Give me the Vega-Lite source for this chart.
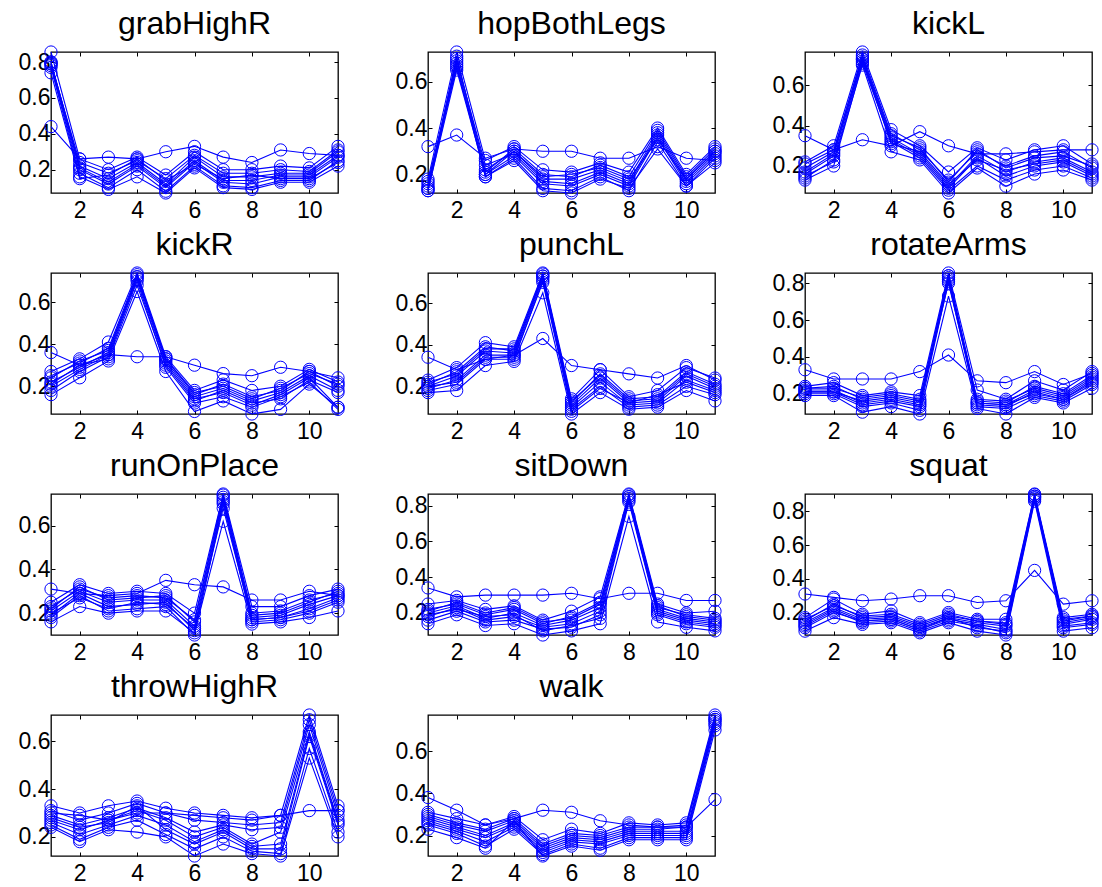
{
"$schema":"https://vega.github.io/schema/vega-lite/v6.json",
"padding":{"left":17,"top":7,"right":5,"bottom":5},
"data":{"values":[
{"p":"grabHighR","s":1,"x":1,"y":0.856},{"p":"grabHighR","s":2,"x":1,"y":0.80},{"p":"grabHighR","s":3,"x":1,"y":0.79},{"p":"grabHighR","s":4,"x":1,"y":0.78},{"p":"grabHighR","s":5,"x":1,"y":0.77},{"p":"grabHighR","s":6,"x":1,"y":0.79},{"p":"grabHighR","s":7,"x":1,"y":0.80},{"p":"grabHighR","s":8,"x":1,"y":0.74},{"p":"grabHighR","s":9,"x":1,"y":0.44},
{"p":"grabHighR","s":1,"x":2,"y":0.26},{"p":"grabHighR","s":2,"x":2,"y":0.22},{"p":"grabHighR","s":3,"x":2,"y":0.20},{"p":"grabHighR","s":4,"x":2,"y":0.18},{"p":"grabHighR","s":5,"x":2,"y":0.16},{"p":"grabHighR","s":6,"x":2,"y":0.24},{"p":"grabHighR","s":7,"x":2,"y":0.21},{"p":"grabHighR","s":8,"x":2,"y":0.15},{"p":"grabHighR","s":9,"x":2,"y":0.26},
{"p":"grabHighR","s":1,"x":3,"y":0.20},{"p":"grabHighR","s":2,"x":3,"y":0.15},{"p":"grabHighR","s":3,"x":3,"y":0.12},{"p":"grabHighR","s":4,"x":3,"y":0.10},{"p":"grabHighR","s":5,"x":3,"y":0.09},{"p":"grabHighR","s":6,"x":3,"y":0.18},{"p":"grabHighR","s":7,"x":3,"y":0.13},{"p":"grabHighR","s":8,"x":3,"y":0.17},{"p":"grabHighR","s":9,"x":3,"y":0.27},
{"p":"grabHighR","s":1,"x":4,"y":0.27},{"p":"grabHighR","s":2,"x":4,"y":0.24},{"p":"grabHighR","s":3,"x":4,"y":0.22},{"p":"grabHighR","s":4,"x":4,"y":0.20},{"p":"grabHighR","s":5,"x":4,"y":0.16},{"p":"grabHighR","s":6,"x":4,"y":0.25},{"p":"grabHighR","s":7,"x":4,"y":0.23},{"p":"grabHighR","s":8,"x":4,"y":0.26},{"p":"grabHighR","s":9,"x":4,"y":0.26},
{"p":"grabHighR","s":1,"x":5,"y":0.17},{"p":"grabHighR","s":2,"x":5,"y":0.12},{"p":"grabHighR","s":3,"x":5,"y":0.10},{"p":"grabHighR","s":4,"x":5,"y":0.08},{"p":"grabHighR","s":5,"x":5,"y":0.07},{"p":"grabHighR","s":6,"x":5,"y":0.15},{"p":"grabHighR","s":7,"x":5,"y":0.11},{"p":"grabHighR","s":8,"x":5,"y":0.14},{"p":"grabHighR","s":9,"x":5,"y":0.30},
{"p":"grabHighR","s":1,"x":6,"y":0.30},{"p":"grabHighR","s":2,"x":6,"y":0.27},{"p":"grabHighR","s":3,"x":6,"y":0.24},{"p":"grabHighR","s":4,"x":6,"y":0.22},{"p":"grabHighR","s":5,"x":6,"y":0.21},{"p":"grabHighR","s":6,"x":6,"y":0.28},{"p":"grabHighR","s":7,"x":6,"y":0.25},{"p":"grabHighR","s":8,"x":6,"y":0.23},{"p":"grabHighR","s":9,"x":6,"y":0.33},
{"p":"grabHighR","s":1,"x":7,"y":0.20},{"p":"grabHighR","s":2,"x":7,"y":0.16},{"p":"grabHighR","s":3,"x":7,"y":0.13},{"p":"grabHighR","s":4,"x":7,"y":0.11},{"p":"grabHighR","s":5,"x":7,"y":0.10},{"p":"grabHighR","s":6,"x":7,"y":0.18},{"p":"grabHighR","s":7,"x":7,"y":0.14},{"p":"grabHighR","s":8,"x":7,"y":0.15},{"p":"grabHighR","s":9,"x":7,"y":0.27},
{"p":"grabHighR","s":1,"x":8,"y":0.20},{"p":"grabHighR","s":2,"x":8,"y":0.16},{"p":"grabHighR","s":3,"x":8,"y":0.12},{"p":"grabHighR","s":4,"x":8,"y":0.10},{"p":"grabHighR","s":5,"x":8,"y":0.09},{"p":"grabHighR","s":6,"x":8,"y":0.18},{"p":"grabHighR","s":7,"x":8,"y":0.14},{"p":"grabHighR","s":8,"x":8,"y":0.17},{"p":"grabHighR","s":9,"x":8,"y":0.24},
{"p":"grabHighR","s":1,"x":9,"y":0.22},{"p":"grabHighR","s":2,"x":9,"y":0.18},{"p":"grabHighR","s":3,"x":9,"y":0.16},{"p":"grabHighR","s":4,"x":9,"y":0.14},{"p":"grabHighR","s":5,"x":9,"y":0.13},{"p":"grabHighR","s":6,"x":9,"y":0.20},{"p":"grabHighR","s":7,"x":9,"y":0.17},{"p":"grabHighR","s":8,"x":9,"y":0.15},{"p":"grabHighR","s":9,"x":9,"y":0.31},
{"p":"grabHighR","s":1,"x":10,"y":0.21},{"p":"grabHighR","s":2,"x":10,"y":0.18},{"p":"grabHighR","s":3,"x":10,"y":0.16},{"p":"grabHighR","s":4,"x":10,"y":0.14},{"p":"grabHighR","s":5,"x":10,"y":0.13},{"p":"grabHighR","s":6,"x":10,"y":0.19},{"p":"grabHighR","s":7,"x":10,"y":0.17},{"p":"grabHighR","s":8,"x":10,"y":0.15},{"p":"grabHighR","s":9,"x":10,"y":0.29},
{"p":"grabHighR","s":1,"x":11,"y":0.33},{"p":"grabHighR","s":2,"x":11,"y":0.30},{"p":"grabHighR","s":3,"x":11,"y":0.27},{"p":"grabHighR","s":4,"x":11,"y":0.25},{"p":"grabHighR","s":5,"x":11,"y":0.22},{"p":"grabHighR","s":6,"x":11,"y":0.31},{"p":"grabHighR","s":7,"x":11,"y":0.28},{"p":"grabHighR","s":8,"x":11,"y":0.24},{"p":"grabHighR","s":9,"x":11,"y":0.28},

{"p":"hopBothLegs","s":1,"x":1,"y":0.18},{"p":"hopBothLegs","s":2,"x":1,"y":0.15},{"p":"hopBothLegs","s":3,"x":1,"y":0.14},{"p":"hopBothLegs","s":4,"x":1,"y":0.13},{"p":"hopBothLegs","s":5,"x":1,"y":0.17},{"p":"hopBothLegs","s":6,"x":1,"y":0.16},{"p":"hopBothLegs","s":7,"x":1,"y":0.14},{"p":"hopBothLegs","s":8,"x":1,"y":0.13},{"p":"hopBothLegs","s":9,"x":1,"y":0.32},
{"p":"hopBothLegs","s":1,"x":2,"y":0.728},{"p":"hopBothLegs","s":2,"x":2,"y":0.70},{"p":"hopBothLegs","s":3,"x":2,"y":0.68},{"p":"hopBothLegs","s":4,"x":2,"y":0.67},{"p":"hopBothLegs","s":5,"x":2,"y":0.66},{"p":"hopBothLegs","s":6,"x":2,"y":0.69},{"p":"hopBothLegs","s":7,"x":2,"y":0.71},{"p":"hopBothLegs","s":8,"x":2,"y":0.65},{"p":"hopBothLegs","s":9,"x":2,"y":0.37},
{"p":"hopBothLegs","s":1,"x":3,"y":0.26},{"p":"hopBothLegs","s":2,"x":3,"y":0.22},{"p":"hopBothLegs","s":3,"x":3,"y":0.20},{"p":"hopBothLegs","s":4,"x":3,"y":0.19},{"p":"hopBothLegs","s":5,"x":3,"y":0.21},{"p":"hopBothLegs","s":6,"x":3,"y":0.24},{"p":"hopBothLegs","s":7,"x":3,"y":0.19},{"p":"hopBothLegs","s":8,"x":3,"y":0.20},{"p":"hopBothLegs","s":9,"x":3,"y":0.27},
{"p":"hopBothLegs","s":1,"x":4,"y":0.32},{"p":"hopBothLegs","s":2,"x":4,"y":0.30},{"p":"hopBothLegs","s":3,"x":4,"y":0.28},{"p":"hopBothLegs","s":4,"x":4,"y":0.27},{"p":"hopBothLegs","s":5,"x":4,"y":0.31},{"p":"hopBothLegs","s":6,"x":4,"y":0.29},{"p":"hopBothLegs","s":7,"x":4,"y":0.26},{"p":"hopBothLegs","s":8,"x":4,"y":0.30},{"p":"hopBothLegs","s":9,"x":4,"y":0.31},
{"p":"hopBothLegs","s":1,"x":5,"y":0.22},{"p":"hopBothLegs","s":2,"x":5,"y":0.18},{"p":"hopBothLegs","s":3,"x":5,"y":0.16},{"p":"hopBothLegs","s":4,"x":5,"y":0.14},{"p":"hopBothLegs","s":5,"x":5,"y":0.20},{"p":"hopBothLegs","s":6,"x":5,"y":0.17},{"p":"hopBothLegs","s":7,"x":5,"y":0.13},{"p":"hopBothLegs","s":8,"x":5,"y":0.19},{"p":"hopBothLegs","s":9,"x":5,"y":0.30},
{"p":"hopBothLegs","s":1,"x":6,"y":0.21},{"p":"hopBothLegs","s":2,"x":6,"y":0.18},{"p":"hopBothLegs","s":3,"x":6,"y":0.15},{"p":"hopBothLegs","s":4,"x":6,"y":0.13},{"p":"hopBothLegs","s":5,"x":6,"y":0.19},{"p":"hopBothLegs","s":6,"x":6,"y":0.16},{"p":"hopBothLegs","s":7,"x":6,"y":0.12},{"p":"hopBothLegs","s":8,"x":6,"y":0.20},{"p":"hopBothLegs","s":9,"x":6,"y":0.30},
{"p":"hopBothLegs","s":1,"x":7,"y":0.25},{"p":"hopBothLegs","s":2,"x":7,"y":0.22},{"p":"hopBothLegs","s":3,"x":7,"y":0.20},{"p":"hopBothLegs","s":4,"x":7,"y":0.19},{"p":"hopBothLegs","s":5,"x":7,"y":0.24},{"p":"hopBothLegs","s":6,"x":7,"y":0.21},{"p":"hopBothLegs","s":7,"x":7,"y":0.18},{"p":"hopBothLegs","s":8,"x":7,"y":0.23},{"p":"hopBothLegs","s":9,"x":7,"y":0.27},
{"p":"hopBothLegs","s":1,"x":8,"y":0.21},{"p":"hopBothLegs","s":2,"x":8,"y":0.17},{"p":"hopBothLegs","s":3,"x":8,"y":0.15},{"p":"hopBothLegs","s":4,"x":8,"y":0.13},{"p":"hopBothLegs","s":5,"x":8,"y":0.19},{"p":"hopBothLegs","s":6,"x":8,"y":0.16},{"p":"hopBothLegs","s":7,"x":8,"y":0.14},{"p":"hopBothLegs","s":8,"x":8,"y":0.18},{"p":"hopBothLegs","s":9,"x":8,"y":0.27},
{"p":"hopBothLegs","s":1,"x":9,"y":0.40},{"p":"hopBothLegs","s":2,"x":9,"y":0.38},{"p":"hopBothLegs","s":3,"x":9,"y":0.36},{"p":"hopBothLegs","s":4,"x":9,"y":0.34},{"p":"hopBothLegs","s":5,"x":9,"y":0.39},{"p":"hopBothLegs","s":6,"x":9,"y":0.37},{"p":"hopBothLegs","s":7,"x":9,"y":0.31},{"p":"hopBothLegs","s":8,"x":9,"y":0.35},{"p":"hopBothLegs","s":9,"x":9,"y":0.32},
{"p":"hopBothLegs","s":1,"x":10,"y":0.20},{"p":"hopBothLegs","s":2,"x":10,"y":0.18},{"p":"hopBothLegs","s":3,"x":10,"y":0.16},{"p":"hopBothLegs","s":4,"x":10,"y":0.15},{"p":"hopBothLegs","s":5,"x":10,"y":0.19},{"p":"hopBothLegs","s":6,"x":10,"y":0.17},{"p":"hopBothLegs","s":7,"x":10,"y":0.15},{"p":"hopBothLegs","s":8,"x":10,"y":0.18},{"p":"hopBothLegs","s":9,"x":10,"y":0.27},
{"p":"hopBothLegs","s":1,"x":11,"y":0.32},{"p":"hopBothLegs","s":2,"x":11,"y":0.30},{"p":"hopBothLegs","s":3,"x":11,"y":0.28},{"p":"hopBothLegs","s":4,"x":11,"y":0.27},{"p":"hopBothLegs","s":5,"x":11,"y":0.31},{"p":"hopBothLegs","s":6,"x":11,"y":0.29},{"p":"hopBothLegs","s":7,"x":11,"y":0.25},{"p":"hopBothLegs","s":8,"x":11,"y":0.30},{"p":"hopBothLegs","s":9,"x":11,"y":0.26},

{"p":"kickL","s":1,"x":1,"y":0.22},{"p":"kickL","s":2,"x":1,"y":0.19},{"p":"kickL","s":3,"x":1,"y":0.16},{"p":"kickL","s":4,"x":1,"y":0.14},{"p":"kickL","s":5,"x":1,"y":0.13},{"p":"kickL","s":6,"x":1,"y":0.21},{"p":"kickL","s":7,"x":1,"y":0.15},{"p":"kickL","s":8,"x":1,"y":0.17},{"p":"kickL","s":9,"x":1,"y":0.35},
{"p":"kickL","s":1,"x":2,"y":0.30},{"p":"kickL","s":2,"x":2,"y":0.27},{"p":"kickL","s":3,"x":2,"y":0.25},{"p":"kickL","s":4,"x":2,"y":0.23},{"p":"kickL","s":5,"x":2,"y":0.20},{"p":"kickL","s":6,"x":2,"y":0.28},{"p":"kickL","s":7,"x":2,"y":0.22},{"p":"kickL","s":8,"x":2,"y":0.26},{"p":"kickL","s":9,"x":2,"y":0.28},
{"p":"kickL","s":1,"x":3,"y":0.765},{"p":"kickL","s":2,"x":3,"y":0.75},{"p":"kickL","s":3,"x":3,"y":0.73},{"p":"kickL","s":4,"x":3,"y":0.72},{"p":"kickL","s":5,"x":3,"y":0.71},{"p":"kickL","s":6,"x":3,"y":0.74},{"p":"kickL","s":7,"x":3,"y":0.70},{"p":"kickL","s":8,"x":3,"y":0.73},{"p":"kickL","s":9,"x":3,"y":0.33},
{"p":"kickL","s":1,"x":4,"y":0.38},{"p":"kickL","s":2,"x":4,"y":0.36},{"p":"kickL","s":3,"x":4,"y":0.34},{"p":"kickL","s":4,"x":4,"y":0.33},{"p":"kickL","s":5,"x":4,"y":0.32},{"p":"kickL","s":6,"x":4,"y":0.35},{"p":"kickL","s":7,"x":4,"y":0.27},{"p":"kickL","s":8,"x":4,"y":0.31},{"p":"kickL","s":9,"x":4,"y":0.30},
{"p":"kickL","s":1,"x":5,"y":0.30},{"p":"kickL","s":2,"x":5,"y":0.28},{"p":"kickL","s":3,"x":5,"y":0.26},{"p":"kickL","s":4,"x":5,"y":0.25},{"p":"kickL","s":5,"x":5,"y":0.24},{"p":"kickL","s":6,"x":5,"y":0.29},{"p":"kickL","s":7,"x":5,"y":0.23},{"p":"kickL","s":8,"x":5,"y":0.27},{"p":"kickL","s":9,"x":5,"y":0.37},
{"p":"kickL","s":1,"x":6,"y":0.17},{"p":"kickL","s":2,"x":6,"y":0.13},{"p":"kickL","s":3,"x":6,"y":0.10},{"p":"kickL","s":4,"x":6,"y":0.09},{"p":"kickL","s":5,"x":6,"y":0.08},{"p":"kickL","s":6,"x":6,"y":0.12},{"p":"kickL","s":7,"x":6,"y":0.066},{"p":"kickL","s":8,"x":6,"y":0.11},{"p":"kickL","s":9,"x":6,"y":0.30},
{"p":"kickL","s":1,"x":7,"y":0.29},{"p":"kickL","s":2,"x":7,"y":0.27},{"p":"kickL","s":3,"x":7,"y":0.25},{"p":"kickL","s":4,"x":7,"y":0.24},{"p":"kickL","s":5,"x":7,"y":0.20},{"p":"kickL","s":6,"x":7,"y":0.28},{"p":"kickL","s":7,"x":7,"y":0.19},{"p":"kickL","s":8,"x":7,"y":0.23},{"p":"kickL","s":9,"x":7,"y":0.26},
{"p":"kickL","s":1,"x":8,"y":0.23},{"p":"kickL","s":2,"x":8,"y":0.20},{"p":"kickL","s":3,"x":8,"y":0.17},{"p":"kickL","s":4,"x":8,"y":0.15},{"p":"kickL","s":5,"x":8,"y":0.13},{"p":"kickL","s":6,"x":8,"y":0.19},{"p":"kickL","s":7,"x":8,"y":0.10},{"p":"kickL","s":8,"x":8,"y":0.18},{"p":"kickL","s":9,"x":8,"y":0.26},
{"p":"kickL","s":1,"x":9,"y":0.28},{"p":"kickL","s":2,"x":9,"y":0.25},{"p":"kickL","s":3,"x":9,"y":0.22},{"p":"kickL","s":4,"x":9,"y":0.20},{"p":"kickL","s":5,"x":9,"y":0.18},{"p":"kickL","s":6,"x":9,"y":0.24},{"p":"kickL","s":7,"x":9,"y":0.16},{"p":"kickL","s":8,"x":9,"y":0.21},{"p":"kickL","s":9,"x":9,"y":0.27},
{"p":"kickL","s":1,"x":10,"y":0.30},{"p":"kickL","s":2,"x":10,"y":0.27},{"p":"kickL","s":3,"x":10,"y":0.24},{"p":"kickL","s":4,"x":10,"y":0.22},{"p":"kickL","s":5,"x":10,"y":0.20},{"p":"kickL","s":6,"x":10,"y":0.25},{"p":"kickL","s":7,"x":10,"y":0.18},{"p":"kickL","s":8,"x":10,"y":0.23},{"p":"kickL","s":9,"x":10,"y":0.28},
{"p":"kickL","s":1,"x":11,"y":0.21},{"p":"kickL","s":2,"x":11,"y":0.19},{"p":"kickL","s":3,"x":11,"y":0.17},{"p":"kickL","s":4,"x":11,"y":0.15},{"p":"kickL","s":5,"x":11,"y":0.14},{"p":"kickL","s":6,"x":11,"y":0.20},{"p":"kickL","s":7,"x":11,"y":0.13},{"p":"kickL","s":8,"x":11,"y":0.16},{"p":"kickL","s":9,"x":11,"y":0.28},

{"p":"kickR","s":1,"x":1,"y":0.27},{"p":"kickR","s":2,"x":1,"y":0.25},{"p":"kickR","s":3,"x":1,"y":0.22},{"p":"kickR","s":4,"x":1,"y":0.20},{"p":"kickR","s":5,"x":1,"y":0.18},{"p":"kickR","s":6,"x":1,"y":0.24},{"p":"kickR","s":7,"x":1,"y":0.16},{"p":"kickR","s":8,"x":1,"y":0.21},{"p":"kickR","s":9,"x":1,"y":0.36},
{"p":"kickR","s":1,"x":2,"y":0.33},{"p":"kickR","s":2,"x":2,"y":0.31},{"p":"kickR","s":3,"x":2,"y":0.29},{"p":"kickR","s":4,"x":2,"y":0.28},{"p":"kickR","s":5,"x":2,"y":0.27},{"p":"kickR","s":6,"x":2,"y":0.32},{"p":"kickR","s":7,"x":2,"y":0.24},{"p":"kickR","s":8,"x":2,"y":0.30},{"p":"kickR","s":9,"x":2,"y":0.30},
{"p":"kickR","s":1,"x":3,"y":0.41},{"p":"kickR","s":2,"x":3,"y":0.38},{"p":"kickR","s":3,"x":3,"y":0.36},{"p":"kickR","s":4,"x":3,"y":0.35},{"p":"kickR","s":5,"x":3,"y":0.34},{"p":"kickR","s":6,"x":3,"y":0.37},{"p":"kickR","s":7,"x":3,"y":0.32},{"p":"kickR","s":8,"x":3,"y":0.33},{"p":"kickR","s":9,"x":3,"y":0.35},
{"p":"kickR","s":1,"x":4,"y":0.738},{"p":"kickR","s":2,"x":4,"y":0.73},{"p":"kickR","s":3,"x":4,"y":0.72},{"p":"kickR","s":4,"x":4,"y":0.71},{"p":"kickR","s":5,"x":4,"y":0.70},{"p":"kickR","s":6,"x":4,"y":0.72},{"p":"kickR","s":7,"x":4,"y":0.65},{"p":"kickR","s":8,"x":4,"y":0.68},{"p":"kickR","s":9,"x":4,"y":0.34},
{"p":"kickR","s":1,"x":5,"y":0.34},{"p":"kickR","s":2,"x":5,"y":0.33},{"p":"kickR","s":3,"x":5,"y":0.32},{"p":"kickR","s":4,"x":5,"y":0.31},{"p":"kickR","s":5,"x":5,"y":0.29},{"p":"kickR","s":6,"x":5,"y":0.33},{"p":"kickR","s":7,"x":5,"y":0.27},{"p":"kickR","s":8,"x":5,"y":0.30},{"p":"kickR","s":9,"x":5,"y":0.34},
{"p":"kickR","s":1,"x":6,"y":0.18},{"p":"kickR","s":2,"x":6,"y":0.16},{"p":"kickR","s":3,"x":6,"y":0.15},{"p":"kickR","s":4,"x":6,"y":0.14},{"p":"kickR","s":5,"x":6,"y":0.12},{"p":"kickR","s":6,"x":6,"y":0.17},{"p":"kickR","s":7,"x":6,"y":0.08},{"p":"kickR","s":8,"x":6,"y":0.13},{"p":"kickR","s":9,"x":6,"y":0.30},
{"p":"kickR","s":1,"x":7,"y":0.23},{"p":"kickR","s":2,"x":7,"y":0.21},{"p":"kickR","s":3,"x":7,"y":0.19},{"p":"kickR","s":4,"x":7,"y":0.17},{"p":"kickR","s":5,"x":7,"y":0.15},{"p":"kickR","s":6,"x":7,"y":0.20},{"p":"kickR","s":7,"x":7,"y":0.13},{"p":"kickR","s":8,"x":7,"y":0.18},{"p":"kickR","s":9,"x":7,"y":0.26},
{"p":"kickR","s":1,"x":8,"y":0.18},{"p":"kickR","s":2,"x":8,"y":0.15},{"p":"kickR","s":3,"x":8,"y":0.13},{"p":"kickR","s":4,"x":8,"y":0.11},{"p":"kickR","s":5,"x":8,"y":0.10},{"p":"kickR","s":6,"x":8,"y":0.14},{"p":"kickR","s":7,"x":8,"y":0.068},{"p":"kickR","s":8,"x":8,"y":0.12},{"p":"kickR","s":9,"x":8,"y":0.25},
{"p":"kickR","s":1,"x":9,"y":0.20},{"p":"kickR","s":2,"x":9,"y":0.18},{"p":"kickR","s":3,"x":9,"y":0.17},{"p":"kickR","s":4,"x":9,"y":0.16},{"p":"kickR","s":5,"x":9,"y":0.15},{"p":"kickR","s":6,"x":9,"y":0.19},{"p":"kickR","s":7,"x":9,"y":0.09},{"p":"kickR","s":8,"x":9,"y":0.14},{"p":"kickR","s":9,"x":9,"y":0.29},
{"p":"kickR","s":1,"x":10,"y":0.28},{"p":"kickR","s":2,"x":10,"y":0.27},{"p":"kickR","s":3,"x":10,"y":0.25},{"p":"kickR","s":4,"x":10,"y":0.24},{"p":"kickR","s":5,"x":10,"y":0.22},{"p":"kickR","s":6,"x":10,"y":0.26},{"p":"kickR","s":7,"x":10,"y":0.21},{"p":"kickR","s":8,"x":10,"y":0.23},{"p":"kickR","s":9,"x":10,"y":0.27},
{"p":"kickR","s":1,"x":11,"y":0.22},{"p":"kickR","s":2,"x":11,"y":0.20},{"p":"kickR","s":3,"x":11,"y":0.18},{"p":"kickR","s":4,"x":11,"y":0.10},{"p":"kickR","s":5,"x":11,"y":0.09},{"p":"kickR","s":6,"x":11,"y":0.21},{"p":"kickR","s":7,"x":11,"y":0.10},{"p":"kickR","s":8,"x":11,"y":0.17},{"p":"kickR","s":9,"x":11,"y":0.24},

{"p":"punchL","s":1,"x":1,"y":0.23},{"p":"punchL","s":2,"x":1,"y":0.21},{"p":"punchL","s":3,"x":1,"y":0.20},{"p":"punchL","s":4,"x":1,"y":0.19},{"p":"punchL","s":5,"x":1,"y":0.18},{"p":"punchL","s":6,"x":1,"y":0.22},{"p":"punchL","s":7,"x":1,"y":0.17},{"p":"punchL","s":8,"x":1,"y":0.20},{"p":"punchL","s":9,"x":1,"y":0.34},
{"p":"punchL","s":1,"x":2,"y":0.29},{"p":"punchL","s":2,"x":2,"y":0.27},{"p":"punchL","s":3,"x":2,"y":0.25},{"p":"punchL","s":4,"x":2,"y":0.23},{"p":"punchL","s":5,"x":2,"y":0.21},{"p":"punchL","s":6,"x":2,"y":0.26},{"p":"punchL","s":7,"x":2,"y":0.18},{"p":"punchL","s":8,"x":2,"y":0.22},{"p":"punchL","s":9,"x":2,"y":0.28},
{"p":"punchL","s":1,"x":3,"y":0.41},{"p":"punchL","s":2,"x":3,"y":0.39},{"p":"punchL","s":3,"x":3,"y":0.37},{"p":"punchL","s":4,"x":3,"y":0.35},{"p":"punchL","s":5,"x":3,"y":0.33},{"p":"punchL","s":6,"x":3,"y":0.38},{"p":"punchL","s":7,"x":3,"y":0.30},{"p":"punchL","s":8,"x":3,"y":0.34},{"p":"punchL","s":9,"x":3,"y":0.33},
{"p":"punchL","s":1,"x":4,"y":0.39},{"p":"punchL","s":2,"x":4,"y":0.37},{"p":"punchL","s":3,"x":4,"y":0.36},{"p":"punchL","s":4,"x":4,"y":0.35},{"p":"punchL","s":5,"x":4,"y":0.33},{"p":"punchL","s":6,"x":4,"y":0.38},{"p":"punchL","s":7,"x":4,"y":0.32},{"p":"punchL","s":8,"x":4,"y":0.34},{"p":"punchL","s":9,"x":4,"y":0.35},
{"p":"punchL","s":1,"x":5,"y":0.745},{"p":"punchL","s":2,"x":5,"y":0.74},{"p":"punchL","s":3,"x":5,"y":0.73},{"p":"punchL","s":4,"x":5,"y":0.72},{"p":"punchL","s":5,"x":5,"y":0.71},{"p":"punchL","s":6,"x":5,"y":0.73},{"p":"punchL","s":7,"x":5,"y":0.65},{"p":"punchL","s":8,"x":5,"y":0.70},{"p":"punchL","s":9,"x":5,"y":0.43},
{"p":"punchL","s":1,"x":6,"y":0.14},{"p":"punchL","s":2,"x":6,"y":0.12},{"p":"punchL","s":3,"x":6,"y":0.11},{"p":"punchL","s":4,"x":6,"y":0.10},{"p":"punchL","s":5,"x":6,"y":0.09},{"p":"punchL","s":6,"x":6,"y":0.13},{"p":"punchL","s":7,"x":6,"y":0.067},{"p":"punchL","s":8,"x":6,"y":0.08},{"p":"punchL","s":9,"x":6,"y":0.30},
{"p":"punchL","s":1,"x":7,"y":0.28},{"p":"punchL","s":2,"x":7,"y":0.26},{"p":"punchL","s":3,"x":7,"y":0.24},{"p":"punchL","s":4,"x":7,"y":0.22},{"p":"punchL","s":5,"x":7,"y":0.20},{"p":"punchL","s":6,"x":7,"y":0.25},{"p":"punchL","s":7,"x":7,"y":0.17},{"p":"punchL","s":8,"x":7,"y":0.19},{"p":"punchL","s":9,"x":7,"y":0.28},
{"p":"punchL","s":1,"x":8,"y":0.15},{"p":"punchL","s":2,"x":8,"y":0.14},{"p":"punchL","s":3,"x":8,"y":0.12},{"p":"punchL","s":4,"x":8,"y":0.11},{"p":"punchL","s":5,"x":8,"y":0.10},{"p":"punchL","s":6,"x":8,"y":0.13},{"p":"punchL","s":7,"x":8,"y":0.09},{"p":"punchL","s":8,"x":8,"y":0.12},{"p":"punchL","s":9,"x":8,"y":0.26},
{"p":"punchL","s":1,"x":9,"y":0.18},{"p":"punchL","s":2,"x":9,"y":0.15},{"p":"punchL","s":3,"x":9,"y":0.13},{"p":"punchL","s":4,"x":9,"y":0.12},{"p":"punchL","s":5,"x":9,"y":0.11},{"p":"punchL","s":6,"x":9,"y":0.14},{"p":"punchL","s":7,"x":9,"y":0.10},{"p":"punchL","s":8,"x":9,"y":0.16},{"p":"punchL","s":9,"x":9,"y":0.24},
{"p":"punchL","s":1,"x":10,"y":0.29},{"p":"punchL","s":2,"x":10,"y":0.27},{"p":"punchL","s":3,"x":10,"y":0.25},{"p":"punchL","s":4,"x":10,"y":0.23},{"p":"punchL","s":5,"x":10,"y":0.20},{"p":"punchL","s":6,"x":10,"y":0.26},{"p":"punchL","s":7,"x":10,"y":0.18},{"p":"punchL","s":8,"x":10,"y":0.22},{"p":"punchL","s":9,"x":10,"y":0.30},
{"p":"punchL","s":1,"x":11,"y":0.24},{"p":"punchL","s":2,"x":11,"y":0.21},{"p":"punchL","s":3,"x":11,"y":0.19},{"p":"punchL","s":4,"x":11,"y":0.18},{"p":"punchL","s":5,"x":11,"y":0.16},{"p":"punchL","s":6,"x":11,"y":0.20},{"p":"punchL","s":7,"x":11,"y":0.13},{"p":"punchL","s":8,"x":11,"y":0.17},{"p":"punchL","s":9,"x":11,"y":0.23},

{"p":"rotateArms","s":1,"x":1,"y":0.24},{"p":"rotateArms","s":2,"x":1,"y":0.23},{"p":"rotateArms","s":3,"x":1,"y":0.22},{"p":"rotateArms","s":4,"x":1,"y":0.21},{"p":"rotateArms","s":5,"x":1,"y":0.20},{"p":"rotateArms","s":6,"x":1,"y":0.23},{"p":"rotateArms","s":7,"x":1,"y":0.19},{"p":"rotateArms","s":8,"x":1,"y":0.21},{"p":"rotateArms","s":9,"x":1,"y":0.33},
{"p":"rotateArms","s":1,"x":2,"y":0.26},{"p":"rotateArms","s":2,"x":2,"y":0.24},{"p":"rotateArms","s":3,"x":2,"y":0.22},{"p":"rotateArms","s":4,"x":2,"y":0.21},{"p":"rotateArms","s":5,"x":2,"y":0.20},{"p":"rotateArms","s":6,"x":2,"y":0.23},{"p":"rotateArms","s":7,"x":2,"y":0.19},{"p":"rotateArms","s":8,"x":2,"y":0.21},{"p":"rotateArms","s":9,"x":2,"y":0.28},
{"p":"rotateArms","s":1,"x":3,"y":0.19},{"p":"rotateArms","s":2,"x":3,"y":0.17},{"p":"rotateArms","s":3,"x":3,"y":0.15},{"p":"rotateArms","s":4,"x":3,"y":0.14},{"p":"rotateArms","s":5,"x":3,"y":0.13},{"p":"rotateArms","s":6,"x":3,"y":0.18},{"p":"rotateArms","s":7,"x":3,"y":0.10},{"p":"rotateArms","s":8,"x":3,"y":0.16},{"p":"rotateArms","s":9,"x":3,"y":0.28},
{"p":"rotateArms","s":1,"x":4,"y":0.21},{"p":"rotateArms","s":2,"x":4,"y":0.19},{"p":"rotateArms","s":3,"x":4,"y":0.17},{"p":"rotateArms","s":4,"x":4,"y":0.16},{"p":"rotateArms","s":5,"x":4,"y":0.15},{"p":"rotateArms","s":6,"x":4,"y":0.20},{"p":"rotateArms","s":7,"x":4,"y":0.13},{"p":"rotateArms","s":8,"x":4,"y":0.18},{"p":"rotateArms","s":9,"x":4,"y":0.28},
{"p":"rotateArms","s":1,"x":5,"y":0.19},{"p":"rotateArms","s":2,"x":5,"y":0.16},{"p":"rotateArms","s":3,"x":5,"y":0.14},{"p":"rotateArms","s":4,"x":5,"y":0.13},{"p":"rotateArms","s":5,"x":5,"y":0.11},{"p":"rotateArms","s":6,"x":5,"y":0.17},{"p":"rotateArms","s":7,"x":5,"y":0.09},{"p":"rotateArms","s":8,"x":5,"y":0.15},{"p":"rotateArms","s":9,"x":5,"y":0.32},
{"p":"rotateArms","s":1,"x":6,"y":0.855},{"p":"rotateArms","s":2,"x":6,"y":0.84},{"p":"rotateArms","s":3,"x":6,"y":0.83},{"p":"rotateArms","s":4,"x":6,"y":0.82},{"p":"rotateArms","s":5,"x":6,"y":0.81},{"p":"rotateArms","s":6,"x":6,"y":0.84},{"p":"rotateArms","s":7,"x":6,"y":0.73},{"p":"rotateArms","s":8,"x":6,"y":0.80},{"p":"rotateArms","s":9,"x":6,"y":0.41},
{"p":"rotateArms","s":1,"x":7,"y":0.22},{"p":"rotateArms","s":2,"x":7,"y":0.16},{"p":"rotateArms","s":3,"x":7,"y":0.15},{"p":"rotateArms","s":4,"x":7,"y":0.14},{"p":"rotateArms","s":5,"x":7,"y":0.13},{"p":"rotateArms","s":6,"x":7,"y":0.17},{"p":"rotateArms","s":7,"x":7,"y":0.12},{"p":"rotateArms","s":8,"x":7,"y":0.15},{"p":"rotateArms","s":9,"x":7,"y":0.27},
{"p":"rotateArms","s":1,"x":8,"y":0.17},{"p":"rotateArms","s":2,"x":8,"y":0.15},{"p":"rotateArms","s":3,"x":8,"y":0.14},{"p":"rotateArms","s":4,"x":8,"y":0.13},{"p":"rotateArms","s":5,"x":8,"y":0.12},{"p":"rotateArms","s":6,"x":8,"y":0.16},{"p":"rotateArms","s":7,"x":8,"y":0.09},{"p":"rotateArms","s":8,"x":8,"y":0.14},{"p":"rotateArms","s":9,"x":8,"y":0.26},
{"p":"rotateArms","s":1,"x":9,"y":0.27},{"p":"rotateArms","s":2,"x":9,"y":0.24},{"p":"rotateArms","s":3,"x":9,"y":0.22},{"p":"rotateArms","s":4,"x":9,"y":0.21},{"p":"rotateArms","s":5,"x":9,"y":0.19},{"p":"rotateArms","s":6,"x":9,"y":0.23},{"p":"rotateArms","s":7,"x":9,"y":0.18},{"p":"rotateArms","s":8,"x":9,"y":0.20},{"p":"rotateArms","s":9,"x":9,"y":0.32},
{"p":"rotateArms","s":1,"x":10,"y":0.22},{"p":"rotateArms","s":2,"x":10,"y":0.20},{"p":"rotateArms","s":3,"x":10,"y":0.18},{"p":"rotateArms","s":4,"x":10,"y":0.17},{"p":"rotateArms","s":5,"x":10,"y":0.16},{"p":"rotateArms","s":6,"x":10,"y":0.19},{"p":"rotateArms","s":7,"x":10,"y":0.15},{"p":"rotateArms","s":8,"x":10,"y":0.17},{"p":"rotateArms","s":9,"x":10,"y":0.25},
{"p":"rotateArms","s":1,"x":11,"y":0.32},{"p":"rotateArms","s":2,"x":11,"y":0.30},{"p":"rotateArms","s":3,"x":11,"y":0.28},{"p":"rotateArms","s":4,"x":11,"y":0.27},{"p":"rotateArms","s":5,"x":11,"y":0.25},{"p":"rotateArms","s":6,"x":11,"y":0.29},{"p":"rotateArms","s":7,"x":11,"y":0.23},{"p":"rotateArms","s":8,"x":11,"y":0.26},{"p":"rotateArms","s":9,"x":11,"y":0.31},

{"p":"runOnPlace","s":1,"x":1,"y":0.25},{"p":"runOnPlace","s":2,"x":1,"y":0.23},{"p":"runOnPlace","s":3,"x":1,"y":0.21},{"p":"runOnPlace","s":4,"x":1,"y":0.19},{"p":"runOnPlace","s":5,"x":1,"y":0.18},{"p":"runOnPlace","s":6,"x":1,"y":0.22},{"p":"runOnPlace","s":7,"x":1,"y":0.16},{"p":"runOnPlace","s":8,"x":1,"y":0.20},{"p":"runOnPlace","s":9,"x":1,"y":0.31},
{"p":"runOnPlace","s":1,"x":2,"y":0.33},{"p":"runOnPlace","s":2,"x":2,"y":0.31},{"p":"runOnPlace","s":3,"x":2,"y":0.30},{"p":"runOnPlace","s":4,"x":2,"y":0.29},{"p":"runOnPlace","s":5,"x":2,"y":0.28},{"p":"runOnPlace","s":6,"x":2,"y":0.32},{"p":"runOnPlace","s":7,"x":2,"y":0.23},{"p":"runOnPlace","s":8,"x":2,"y":0.27},{"p":"runOnPlace","s":9,"x":2,"y":0.29},
{"p":"runOnPlace","s":1,"x":3,"y":0.29},{"p":"runOnPlace","s":2,"x":3,"y":0.27},{"p":"runOnPlace","s":3,"x":3,"y":0.25},{"p":"runOnPlace","s":4,"x":3,"y":0.23},{"p":"runOnPlace","s":5,"x":3,"y":0.21},{"p":"runOnPlace","s":6,"x":3,"y":0.26},{"p":"runOnPlace","s":7,"x":3,"y":0.20},{"p":"runOnPlace","s":8,"x":3,"y":0.22},{"p":"runOnPlace","s":9,"x":3,"y":0.28},
{"p":"runOnPlace","s":1,"x":4,"y":0.30},{"p":"runOnPlace","s":2,"x":4,"y":0.28},{"p":"runOnPlace","s":3,"x":4,"y":0.26},{"p":"runOnPlace","s":4,"x":4,"y":0.24},{"p":"runOnPlace","s":5,"x":4,"y":0.22},{"p":"runOnPlace","s":6,"x":4,"y":0.27},{"p":"runOnPlace","s":7,"x":4,"y":0.21},{"p":"runOnPlace","s":8,"x":4,"y":0.25},{"p":"runOnPlace","s":9,"x":4,"y":0.29},
{"p":"runOnPlace","s":1,"x":5,"y":0.29},{"p":"runOnPlace","s":2,"x":5,"y":0.27},{"p":"runOnPlace","s":3,"x":5,"y":0.26},{"p":"runOnPlace","s":4,"x":5,"y":0.25},{"p":"runOnPlace","s":5,"x":5,"y":0.23},{"p":"runOnPlace","s":6,"x":5,"y":0.28},{"p":"runOnPlace","s":7,"x":5,"y":0.21},{"p":"runOnPlace","s":8,"x":5,"y":0.24},{"p":"runOnPlace","s":9,"x":5,"y":0.35},
{"p":"runOnPlace","s":1,"x":6,"y":0.20},{"p":"runOnPlace","s":2,"x":6,"y":0.17},{"p":"runOnPlace","s":3,"x":6,"y":0.14},{"p":"runOnPlace","s":4,"x":6,"y":0.12},{"p":"runOnPlace","s":5,"x":6,"y":0.10},{"p":"runOnPlace","s":6,"x":6,"y":0.16},{"p":"runOnPlace","s":7,"x":6,"y":0.11},{"p":"runOnPlace","s":8,"x":6,"y":0.13},{"p":"runOnPlace","s":9,"x":6,"y":0.33},
{"p":"runOnPlace","s":1,"x":7,"y":0.745},{"p":"runOnPlace","s":2,"x":7,"y":0.74},{"p":"runOnPlace","s":3,"x":7,"y":0.72},{"p":"runOnPlace","s":4,"x":7,"y":0.71},{"p":"runOnPlace","s":5,"x":7,"y":0.70},{"p":"runOnPlace","s":6,"x":7,"y":0.73},{"p":"runOnPlace","s":7,"x":7,"y":0.62},{"p":"runOnPlace","s":8,"x":7,"y":0.68},{"p":"runOnPlace","s":9,"x":7,"y":0.32},
{"p":"runOnPlace","s":1,"x":8,"y":0.23},{"p":"runOnPlace","s":2,"x":8,"y":0.20},{"p":"runOnPlace","s":3,"x":8,"y":0.18},{"p":"runOnPlace","s":4,"x":8,"y":0.17},{"p":"runOnPlace","s":5,"x":8,"y":0.16},{"p":"runOnPlace","s":6,"x":8,"y":0.19},{"p":"runOnPlace","s":7,"x":8,"y":0.15},{"p":"runOnPlace","s":8,"x":8,"y":0.17},{"p":"runOnPlace","s":9,"x":8,"y":0.26},
{"p":"runOnPlace","s":1,"x":9,"y":0.23},{"p":"runOnPlace","s":2,"x":9,"y":0.21},{"p":"runOnPlace","s":3,"x":9,"y":0.19},{"p":"runOnPlace","s":4,"x":9,"y":0.18},{"p":"runOnPlace","s":5,"x":9,"y":0.17},{"p":"runOnPlace","s":6,"x":9,"y":0.20},{"p":"runOnPlace","s":7,"x":9,"y":0.16},{"p":"runOnPlace","s":8,"x":9,"y":0.18},{"p":"runOnPlace","s":9,"x":9,"y":0.26},
{"p":"runOnPlace","s":1,"x":10,"y":0.28},{"p":"runOnPlace","s":2,"x":10,"y":0.26},{"p":"runOnPlace","s":3,"x":10,"y":0.24},{"p":"runOnPlace","s":4,"x":10,"y":0.22},{"p":"runOnPlace","s":5,"x":10,"y":0.20},{"p":"runOnPlace","s":6,"x":10,"y":0.25},{"p":"runOnPlace","s":7,"x":10,"y":0.18},{"p":"runOnPlace","s":8,"x":10,"y":0.21},{"p":"runOnPlace","s":9,"x":10,"y":0.30},
{"p":"runOnPlace","s":1,"x":11,"y":0.31},{"p":"runOnPlace","s":2,"x":11,"y":0.29},{"p":"runOnPlace","s":3,"x":11,"y":0.28},{"p":"runOnPlace","s":4,"x":11,"y":0.27},{"p":"runOnPlace","s":5,"x":11,"y":0.25},{"p":"runOnPlace","s":6,"x":11,"y":0.30},{"p":"runOnPlace","s":7,"x":11,"y":0.21},{"p":"runOnPlace","s":8,"x":11,"y":0.26},{"p":"runOnPlace","s":9,"x":11,"y":0.28},

{"p":"sitDown","s":1,"x":1,"y":0.25},{"p":"sitDown","s":2,"x":1,"y":0.22},{"p":"sitDown","s":3,"x":1,"y":0.20},{"p":"sitDown","s":4,"x":1,"y":0.18},{"p":"sitDown","s":5,"x":1,"y":0.16},{"p":"sitDown","s":6,"x":1,"y":0.21},{"p":"sitDown","s":7,"x":1,"y":0.14},{"p":"sitDown","s":8,"x":1,"y":0.19},{"p":"sitDown","s":9,"x":1,"y":0.34},
{"p":"sitDown","s":1,"x":2,"y":0.27},{"p":"sitDown","s":2,"x":2,"y":0.25},{"p":"sitDown","s":3,"x":2,"y":0.24},{"p":"sitDown","s":4,"x":2,"y":0.23},{"p":"sitDown","s":5,"x":2,"y":0.21},{"p":"sitDown","s":6,"x":2,"y":0.26},{"p":"sitDown","s":7,"x":2,"y":0.19},{"p":"sitDown","s":8,"x":2,"y":0.22},{"p":"sitDown","s":9,"x":2,"y":0.29},
{"p":"sitDown","s":1,"x":3,"y":0.22},{"p":"sitDown","s":2,"x":3,"y":0.19},{"p":"sitDown","s":3,"x":3,"y":0.17},{"p":"sitDown","s":4,"x":3,"y":0.16},{"p":"sitDown","s":5,"x":3,"y":0.15},{"p":"sitDown","s":6,"x":3,"y":0.20},{"p":"sitDown","s":7,"x":3,"y":0.13},{"p":"sitDown","s":8,"x":3,"y":0.18},{"p":"sitDown","s":9,"x":3,"y":0.30},
{"p":"sitDown","s":1,"x":4,"y":0.24},{"p":"sitDown","s":2,"x":4,"y":0.22},{"p":"sitDown","s":3,"x":4,"y":0.20},{"p":"sitDown","s":4,"x":4,"y":0.18},{"p":"sitDown","s":5,"x":4,"y":0.16},{"p":"sitDown","s":6,"x":4,"y":0.23},{"p":"sitDown","s":7,"x":4,"y":0.14},{"p":"sitDown","s":8,"x":4,"y":0.19},{"p":"sitDown","s":9,"x":4,"y":0.30},
{"p":"sitDown","s":1,"x":5,"y":0.16},{"p":"sitDown","s":2,"x":5,"y":0.14},{"p":"sitDown","s":3,"x":5,"y":0.13},{"p":"sitDown","s":4,"x":5,"y":0.12},{"p":"sitDown","s":5,"x":5,"y":0.11},{"p":"sitDown","s":6,"x":5,"y":0.15},{"p":"sitDown","s":7,"x":5,"y":0.077},{"p":"sitDown","s":8,"x":5,"y":0.10},{"p":"sitDown","s":9,"x":5,"y":0.30},
{"p":"sitDown","s":1,"x":6,"y":0.21},{"p":"sitDown","s":2,"x":6,"y":0.18},{"p":"sitDown","s":3,"x":6,"y":0.16},{"p":"sitDown","s":4,"x":6,"y":0.14},{"p":"sitDown","s":5,"x":6,"y":0.12},{"p":"sitDown","s":6,"x":6,"y":0.17},{"p":"sitDown","s":7,"x":6,"y":0.10},{"p":"sitDown","s":8,"x":6,"y":0.13},{"p":"sitDown","s":9,"x":6,"y":0.31},
{"p":"sitDown","s":1,"x":7,"y":0.29},{"p":"sitDown","s":2,"x":7,"y":0.26},{"p":"sitDown","s":3,"x":7,"y":0.23},{"p":"sitDown","s":4,"x":7,"y":0.21},{"p":"sitDown","s":5,"x":7,"y":0.19},{"p":"sitDown","s":6,"x":7,"y":0.25},{"p":"sitDown","s":7,"x":7,"y":0.14},{"p":"sitDown","s":8,"x":7,"y":0.17},{"p":"sitDown","s":9,"x":7,"y":0.28},
{"p":"sitDown","s":1,"x":8,"y":0.865},{"p":"sitDown","s":2,"x":8,"y":0.86},{"p":"sitDown","s":3,"x":8,"y":0.85},{"p":"sitDown","s":4,"x":8,"y":0.84},{"p":"sitDown","s":5,"x":8,"y":0.83},{"p":"sitDown","s":6,"x":8,"y":0.85},{"p":"sitDown","s":7,"x":8,"y":0.74},{"p":"sitDown","s":8,"x":8,"y":0.82},{"p":"sitDown","s":9,"x":8,"y":0.31},
{"p":"sitDown","s":1,"x":9,"y":0.25},{"p":"sitDown","s":2,"x":9,"y":0.23},{"p":"sitDown","s":3,"x":9,"y":0.22},{"p":"sitDown","s":4,"x":9,"y":0.21},{"p":"sitDown","s":5,"x":9,"y":0.20},{"p":"sitDown","s":6,"x":9,"y":0.24},{"p":"sitDown","s":7,"x":9,"y":0.15},{"p":"sitDown","s":8,"x":9,"y":0.19},{"p":"sitDown","s":9,"x":9,"y":0.31},
{"p":"sitDown","s":1,"x":10,"y":0.20},{"p":"sitDown","s":2,"x":10,"y":0.19},{"p":"sitDown","s":3,"x":10,"y":0.17},{"p":"sitDown","s":4,"x":10,"y":0.16},{"p":"sitDown","s":5,"x":10,"y":0.15},{"p":"sitDown","s":6,"x":10,"y":0.18},{"p":"sitDown","s":7,"x":10,"y":0.12},{"p":"sitDown","s":8,"x":10,"y":0.14},{"p":"sitDown","s":9,"x":10,"y":0.27},
{"p":"sitDown","s":1,"x":11,"y":0.21},{"p":"sitDown","s":2,"x":11,"y":0.17},{"p":"sitDown","s":3,"x":11,"y":0.15},{"p":"sitDown","s":4,"x":11,"y":0.14},{"p":"sitDown","s":5,"x":11,"y":0.13},{"p":"sitDown","s":6,"x":11,"y":0.16},{"p":"sitDown","s":7,"x":11,"y":0.10},{"p":"sitDown","s":8,"x":11,"y":0.12},{"p":"sitDown","s":9,"x":11,"y":0.27},

{"p":"squat","s":1,"x":1,"y":0.17},{"p":"squat","s":2,"x":1,"y":0.15},{"p":"squat","s":3,"x":1,"y":0.14},{"p":"squat","s":4,"x":1,"y":0.13},{"p":"squat","s":5,"x":1,"y":0.12},{"p":"squat","s":6,"x":1,"y":0.16},{"p":"squat","s":7,"x":1,"y":0.09},{"p":"squat","s":8,"x":1,"y":0.11},{"p":"squat","s":9,"x":1,"y":0.31},
{"p":"squat","s":1,"x":2,"y":0.28},{"p":"squat","s":2,"x":2,"y":0.25},{"p":"squat","s":3,"x":2,"y":0.23},{"p":"squat","s":4,"x":2,"y":0.22},{"p":"squat","s":5,"x":2,"y":0.21},{"p":"squat","s":6,"x":2,"y":0.24},{"p":"squat","s":7,"x":2,"y":0.17},{"p":"squat","s":8,"x":2,"y":0.20},{"p":"squat","s":9,"x":2,"y":0.29},
{"p":"squat","s":1,"x":3,"y":0.19},{"p":"squat","s":2,"x":3,"y":0.17},{"p":"squat","s":3,"x":3,"y":0.16},{"p":"squat","s":4,"x":3,"y":0.15},{"p":"squat","s":5,"x":3,"y":0.14},{"p":"squat","s":6,"x":3,"y":0.18},{"p":"squat","s":7,"x":3,"y":0.13},{"p":"squat","s":8,"x":3,"y":0.15},{"p":"squat","s":9,"x":3,"y":0.27},
{"p":"squat","s":1,"x":4,"y":0.21},{"p":"squat","s":2,"x":4,"y":0.18},{"p":"squat","s":3,"x":4,"y":0.17},{"p":"squat","s":4,"x":4,"y":0.16},{"p":"squat","s":5,"x":4,"y":0.15},{"p":"squat","s":6,"x":4,"y":0.19},{"p":"squat","s":7,"x":4,"y":0.14},{"p":"squat","s":8,"x":4,"y":0.16},{"p":"squat","s":9,"x":4,"y":0.28},
{"p":"squat","s":1,"x":5,"y":0.14},{"p":"squat","s":2,"x":5,"y":0.12},{"p":"squat","s":3,"x":5,"y":0.11},{"p":"squat","s":4,"x":5,"y":0.10},{"p":"squat","s":5,"x":5,"y":0.09},{"p":"squat","s":6,"x":5,"y":0.13},{"p":"squat","s":7,"x":5,"y":0.08},{"p":"squat","s":8,"x":5,"y":0.10},{"p":"squat","s":9,"x":5,"y":0.30},
{"p":"squat","s":1,"x":6,"y":0.20},{"p":"squat","s":2,"x":6,"y":0.18},{"p":"squat","s":3,"x":6,"y":0.17},{"p":"squat","s":4,"x":6,"y":0.16},{"p":"squat","s":5,"x":6,"y":0.15},{"p":"squat","s":6,"x":6,"y":0.19},{"p":"squat","s":7,"x":6,"y":0.14},{"p":"squat","s":8,"x":6,"y":0.17},{"p":"squat","s":9,"x":6,"y":0.30},
{"p":"squat","s":1,"x":7,"y":0.16},{"p":"squat","s":2,"x":7,"y":0.15},{"p":"squat","s":3,"x":7,"y":0.14},{"p":"squat","s":4,"x":7,"y":0.13},{"p":"squat","s":5,"x":7,"y":0.12},{"p":"squat","s":6,"x":7,"y":0.15},{"p":"squat","s":7,"x":7,"y":0.09},{"p":"squat","s":8,"x":7,"y":0.11},{"p":"squat","s":9,"x":7,"y":0.26},
{"p":"squat","s":1,"x":8,"y":0.16},{"p":"squat","s":2,"x":8,"y":0.14},{"p":"squat","s":3,"x":8,"y":0.12},{"p":"squat","s":4,"x":8,"y":0.10},{"p":"squat","s":5,"x":8,"y":0.08},{"p":"squat","s":6,"x":8,"y":0.13},{"p":"squat","s":7,"x":8,"y":0.067},{"p":"squat","s":8,"x":8,"y":0.09},{"p":"squat","s":9,"x":8,"y":0.27},
{"p":"squat","s":1,"x":9,"y":0.903},{"p":"squat","s":2,"x":9,"y":0.90},{"p":"squat","s":3,"x":9,"y":0.89},{"p":"squat","s":4,"x":9,"y":0.88},{"p":"squat","s":5,"x":9,"y":0.87},{"p":"squat","s":6,"x":9,"y":0.89},{"p":"squat","s":7,"x":9,"y":0.86},{"p":"squat","s":8,"x":9,"y":0.88},{"p":"squat","s":9,"x":9,"y":0.45},
{"p":"squat","s":1,"x":10,"y":0.17},{"p":"squat","s":2,"x":10,"y":0.15},{"p":"squat","s":3,"x":10,"y":0.14},{"p":"squat","s":4,"x":10,"y":0.13},{"p":"squat","s":5,"x":10,"y":0.12},{"p":"squat","s":6,"x":10,"y":0.16},{"p":"squat","s":7,"x":10,"y":0.09},{"p":"squat","s":8,"x":10,"y":0.11},{"p":"squat","s":9,"x":10,"y":0.25},
{"p":"squat","s":1,"x":11,"y":0.19},{"p":"squat","s":2,"x":11,"y":0.18},{"p":"squat","s":3,"x":11,"y":0.17},{"p":"squat","s":4,"x":11,"y":0.16},{"p":"squat","s":5,"x":11,"y":0.14},{"p":"squat","s":6,"x":11,"y":0.18},{"p":"squat","s":7,"x":11,"y":0.11},{"p":"squat","s":8,"x":11,"y":0.13},{"p":"squat","s":9,"x":11,"y":0.27},

{"p":"throwHighR","s":1,"x":1,"y":0.33},{"p":"throwHighR","s":2,"x":1,"y":0.31},{"p":"throwHighR","s":3,"x":1,"y":0.29},{"p":"throwHighR","s":4,"x":1,"y":0.27},{"p":"throwHighR","s":5,"x":1,"y":0.26},{"p":"throwHighR","s":6,"x":1,"y":0.28},{"p":"throwHighR","s":7,"x":1,"y":0.25},{"p":"throwHighR","s":8,"x":1,"y":0.24},{"p":"throwHighR","s":9,"x":1,"y":0.30},
{"p":"throwHighR","s":1,"x":2,"y":0.30},{"p":"throwHighR","s":2,"x":2,"y":0.27},{"p":"throwHighR","s":3,"x":2,"y":0.25},{"p":"throwHighR","s":4,"x":2,"y":0.23},{"p":"throwHighR","s":5,"x":2,"y":0.21},{"p":"throwHighR","s":6,"x":2,"y":0.24},{"p":"throwHighR","s":7,"x":2,"y":0.19},{"p":"throwHighR","s":8,"x":2,"y":0.18},{"p":"throwHighR","s":9,"x":2,"y":0.29},
{"p":"throwHighR","s":1,"x":3,"y":0.33},{"p":"throwHighR","s":2,"x":3,"y":0.30},{"p":"throwHighR","s":3,"x":3,"y":0.28},{"p":"throwHighR","s":4,"x":3,"y":0.27},{"p":"throwHighR","s":5,"x":3,"y":0.25},{"p":"throwHighR","s":6,"x":3,"y":0.26},{"p":"throwHighR","s":7,"x":3,"y":0.24},{"p":"throwHighR","s":8,"x":3,"y":0.23},{"p":"throwHighR","s":9,"x":3,"y":0.27},
{"p":"throwHighR","s":1,"x":4,"y":0.35},{"p":"throwHighR","s":2,"x":4,"y":0.34},{"p":"throwHighR","s":3,"x":4,"y":0.32},{"p":"throwHighR","s":4,"x":4,"y":0.31},{"p":"throwHighR","s":5,"x":4,"y":0.29},{"p":"throwHighR","s":6,"x":4,"y":0.33},{"p":"throwHighR","s":7,"x":4,"y":0.27},{"p":"throwHighR","s":8,"x":4,"y":0.22},{"p":"throwHighR","s":9,"x":4,"y":0.30},
{"p":"throwHighR","s":1,"x":5,"y":0.32},{"p":"throwHighR","s":2,"x":5,"y":0.30},{"p":"throwHighR","s":3,"x":5,"y":0.28},{"p":"throwHighR","s":4,"x":5,"y":0.27},{"p":"throwHighR","s":5,"x":5,"y":0.25},{"p":"throwHighR","s":6,"x":5,"y":0.23},{"p":"throwHighR","s":7,"x":5,"y":0.21},{"p":"throwHighR","s":8,"x":5,"y":0.20},{"p":"throwHighR","s":9,"x":5,"y":0.30},
{"p":"throwHighR","s":1,"x":6,"y":0.30},{"p":"throwHighR","s":2,"x":6,"y":0.27},{"p":"throwHighR","s":3,"x":6,"y":0.22},{"p":"throwHighR","s":4,"x":6,"y":0.20},{"p":"throwHighR","s":5,"x":6,"y":0.18},{"p":"throwHighR","s":6,"x":6,"y":0.17},{"p":"throwHighR","s":7,"x":6,"y":0.15},{"p":"throwHighR","s":8,"x":6,"y":0.12},{"p":"throwHighR","s":9,"x":6,"y":0.29},
{"p":"throwHighR","s":1,"x":7,"y":0.29},{"p":"throwHighR","s":2,"x":7,"y":0.26},{"p":"throwHighR","s":3,"x":7,"y":0.25},{"p":"throwHighR","s":4,"x":7,"y":0.24},{"p":"throwHighR","s":5,"x":7,"y":0.23},{"p":"throwHighR","s":6,"x":7,"y":0.22},{"p":"throwHighR","s":7,"x":7,"y":0.20},{"p":"throwHighR","s":8,"x":7,"y":0.17},{"p":"throwHighR","s":9,"x":7,"y":0.28},
{"p":"throwHighR","s":1,"x":8,"y":0.28},{"p":"throwHighR","s":2,"x":8,"y":0.25},{"p":"throwHighR","s":3,"x":8,"y":0.23},{"p":"throwHighR","s":4,"x":8,"y":0.17},{"p":"throwHighR","s":5,"x":8,"y":0.16},{"p":"throwHighR","s":6,"x":8,"y":0.15},{"p":"throwHighR","s":7,"x":8,"y":0.14},{"p":"throwHighR","s":8,"x":8,"y":0.13},{"p":"throwHighR","s":9,"x":8,"y":0.27},
{"p":"throwHighR","s":1,"x":9,"y":0.29},{"p":"throwHighR","s":2,"x":9,"y":0.26},{"p":"throwHighR","s":3,"x":9,"y":0.24},{"p":"throwHighR","s":4,"x":9,"y":0.22},{"p":"throwHighR","s":5,"x":9,"y":0.17},{"p":"throwHighR","s":6,"x":9,"y":0.15},{"p":"throwHighR","s":7,"x":9,"y":0.13},{"p":"throwHighR","s":8,"x":9,"y":0.12},{"p":"throwHighR","s":9,"x":9,"y":0.29},
{"p":"throwHighR","s":1,"x":10,"y":0.71},{"p":"throwHighR","s":2,"x":10,"y":0.69},{"p":"throwHighR","s":3,"x":10,"y":0.67},{"p":"throwHighR","s":4,"x":10,"y":0.64},{"p":"throwHighR","s":5,"x":10,"y":0.63},{"p":"throwHighR","s":6,"x":10,"y":0.62},{"p":"throwHighR","s":7,"x":10,"y":0.57},{"p":"throwHighR","s":8,"x":10,"y":0.53},{"p":"throwHighR","s":9,"x":10,"y":0.31},
{"p":"throwHighR","s":1,"x":11,"y":0.33},{"p":"throwHighR","s":2,"x":11,"y":0.31},{"p":"throwHighR","s":3,"x":11,"y":0.29},{"p":"throwHighR","s":4,"x":11,"y":0.27},{"p":"throwHighR","s":5,"x":11,"y":0.26},{"p":"throwHighR","s":6,"x":11,"y":0.25},{"p":"throwHighR","s":7,"x":11,"y":0.22},{"p":"throwHighR","s":8,"x":11,"y":0.20},{"p":"throwHighR","s":9,"x":11,"y":0.31},

{"p":"walk","s":1,"x":1,"y":0.31},{"p":"walk","s":2,"x":1,"y":0.30},{"p":"walk","s":3,"x":1,"y":0.29},{"p":"walk","s":4,"x":1,"y":0.28},{"p":"walk","s":5,"x":1,"y":0.27},{"p":"walk","s":6,"x":1,"y":0.26},{"p":"walk","s":7,"x":1,"y":0.25},{"p":"walk","s":8,"x":1,"y":0.23},{"p":"walk","s":9,"x":1,"y":0.38},
{"p":"walk","s":1,"x":2,"y":0.28},{"p":"walk","s":2,"x":2,"y":0.26},{"p":"walk","s":3,"x":2,"y":0.25},{"p":"walk","s":4,"x":2,"y":0.24},{"p":"walk","s":5,"x":2,"y":0.23},{"p":"walk","s":6,"x":2,"y":0.22},{"p":"walk","s":7,"x":2,"y":0.21},{"p":"walk","s":8,"x":2,"y":0.19},{"p":"walk","s":9,"x":2,"y":0.32},
{"p":"walk","s":1,"x":3,"y":0.25},{"p":"walk","s":2,"x":3,"y":0.23},{"p":"walk","s":3,"x":3,"y":0.22},{"p":"walk","s":4,"x":3,"y":0.20},{"p":"walk","s":5,"x":3,"y":0.19},{"p":"walk","s":6,"x":3,"y":0.17},{"p":"walk","s":7,"x":3,"y":0.15},{"p":"walk","s":8,"x":3,"y":0.14},{"p":"walk","s":9,"x":3,"y":0.25},
{"p":"walk","s":1,"x":4,"y":0.29},{"p":"walk","s":2,"x":4,"y":0.28},{"p":"walk","s":3,"x":4,"y":0.27},{"p":"walk","s":4,"x":4,"y":0.26},{"p":"walk","s":5,"x":4,"y":0.25},{"p":"walk","s":6,"x":4,"y":0.24},{"p":"walk","s":7,"x":4,"y":0.23},{"p":"walk","s":8,"x":4,"y":0.27},{"p":"walk","s":9,"x":4,"y":0.28},
{"p":"walk","s":1,"x":5,"y":0.18},{"p":"walk","s":2,"x":5,"y":0.16},{"p":"walk","s":3,"x":5,"y":0.15},{"p":"walk","s":4,"x":5,"y":0.14},{"p":"walk","s":5,"x":5,"y":0.13},{"p":"walk","s":6,"x":5,"y":0.12},{"p":"walk","s":7,"x":5,"y":0.11},{"p":"walk","s":8,"x":5,"y":0.103},{"p":"walk","s":9,"x":5,"y":0.32},
{"p":"walk","s":1,"x":6,"y":0.23},{"p":"walk","s":2,"x":6,"y":0.21},{"p":"walk","s":3,"x":6,"y":0.20},{"p":"walk","s":4,"x":6,"y":0.19},{"p":"walk","s":5,"x":6,"y":0.18},{"p":"walk","s":6,"x":6,"y":0.17},{"p":"walk","s":7,"x":6,"y":0.16},{"p":"walk","s":8,"x":6,"y":0.15},{"p":"walk","s":9,"x":6,"y":0.31},
{"p":"walk","s":1,"x":7,"y":0.21},{"p":"walk","s":2,"x":7,"y":0.20},{"p":"walk","s":3,"x":7,"y":0.19},{"p":"walk","s":4,"x":7,"y":0.18},{"p":"walk","s":5,"x":7,"y":0.17},{"p":"walk","s":6,"x":7,"y":0.16},{"p":"walk","s":7,"x":7,"y":0.14},{"p":"walk","s":8,"x":7,"y":0.13},{"p":"walk","s":9,"x":7,"y":0.27},
{"p":"walk","s":1,"x":8,"y":0.26},{"p":"walk","s":2,"x":8,"y":0.24},{"p":"walk","s":3,"x":8,"y":0.23},{"p":"walk","s":4,"x":8,"y":0.22},{"p":"walk","s":5,"x":8,"y":0.21},{"p":"walk","s":6,"x":8,"y":0.20},{"p":"walk","s":7,"x":8,"y":0.19},{"p":"walk","s":8,"x":8,"y":0.18},{"p":"walk","s":9,"x":8,"y":0.25},
{"p":"walk","s":1,"x":9,"y":0.25},{"p":"walk","s":2,"x":9,"y":0.24},{"p":"walk","s":3,"x":9,"y":0.23},{"p":"walk","s":4,"x":9,"y":0.22},{"p":"walk","s":5,"x":9,"y":0.21},{"p":"walk","s":6,"x":9,"y":0.20},{"p":"walk","s":7,"x":9,"y":0.19},{"p":"walk","s":8,"x":9,"y":0.18},{"p":"walk","s":9,"x":9,"y":0.24},
{"p":"walk","s":1,"x":10,"y":0.26},{"p":"walk","s":2,"x":10,"y":0.25},{"p":"walk","s":3,"x":10,"y":0.24},{"p":"walk","s":4,"x":10,"y":0.22},{"p":"walk","s":5,"x":10,"y":0.21},{"p":"walk","s":6,"x":10,"y":0.20},{"p":"walk","s":7,"x":10,"y":0.19},{"p":"walk","s":8,"x":10,"y":0.18},{"p":"walk","s":9,"x":10,"y":0.24},
{"p":"walk","s":1,"x":11,"y":0.771},{"p":"walk","s":2,"x":11,"y":0.76},{"p":"walk","s":3,"x":11,"y":0.75},{"p":"walk","s":4,"x":11,"y":0.74},{"p":"walk","s":5,"x":11,"y":0.73},{"p":"walk","s":6,"x":11,"y":0.75},{"p":"walk","s":7,"x":11,"y":0.72},{"p":"walk","s":8,"x":11,"y":0.70},{"p":"walk","s":9,"x":11,"y":0.37}
]},
"columns":3,
"bounds":"flush",
"spacing":{"row":80,"column":90},
"facet":{"field":"p","type":"nominal","sort":["grabHighR","hopBothLegs","kickL","kickR","punchL","rotateArms","runOnPlace","sitDown","squat","throwHighR","walk"],
  "header":{"title":null,"labelFont":"Liberation Sans","labelFontSize":32,"labelColor":"black","labelPadding":3}},
"resolve":{"scale":{"x":"independent","y":"independent"}},
"spec":{
  "width":287,"height":141,
  "resolve":{"axis":{"x":"independent","y":"independent"}},
  "layer":[
    {"mark":{"type":"line","color":"#0000ff","strokeWidth":1.1},
     "encoding":{
       "x":{"field":"x","type":"quantitative","scale":{"domain":[1,11],"nice":false,"zero":false},
            "axis":{"orient":"bottom","values":[2,4,6,8,10],"title":null,"grid":false,"domain":false,"tickSize":-4,"tickColor":"black","labelFont":"Liberation Sans","labelFontSize":23,"labelColor":"black","labelPadding":10,"labelFlush":false}},
       "y":{"field":"y","type":"quantitative","scale":{"nice":false,"zero":false},
            "axis":{"orient":"left","values":[0.2,0.4,0.6,0.8],"format":".1f","title":null,"grid":false,"domain":false,"tickSize":-4,"tickColor":"black","labelFont":"Liberation Sans","labelFontSize":23,"labelColor":"black","labelPadding":5,"labelFlush":false}},
       "detail":{"field":"s","type":"nominal"}}},
    {"mark":{"type":"point","shape":"circle","filled":false,"color":"#0000ff","size":150,"strokeWidth":1,"opacity":1},
     "encoding":{
       "x":{"field":"x","type":"quantitative","axis":{"orient":"top","values":[2,4,6,8,10],"title":null,"grid":false,"domain":false,"labels":false,"tickSize":-4,"tickColor":"black"}},
       "y":{"field":"y","type":"quantitative","axis":{"orient":"right","values":[0.2,0.4,0.6,0.8],"title":null,"grid":false,"domain":false,"labels":false,"tickSize":-4,"tickColor":"black"}}}}
  ]
},
"config":{"view":{"stroke":"black","strokeWidth":1.3},"font":"Liberation Sans"}
}
